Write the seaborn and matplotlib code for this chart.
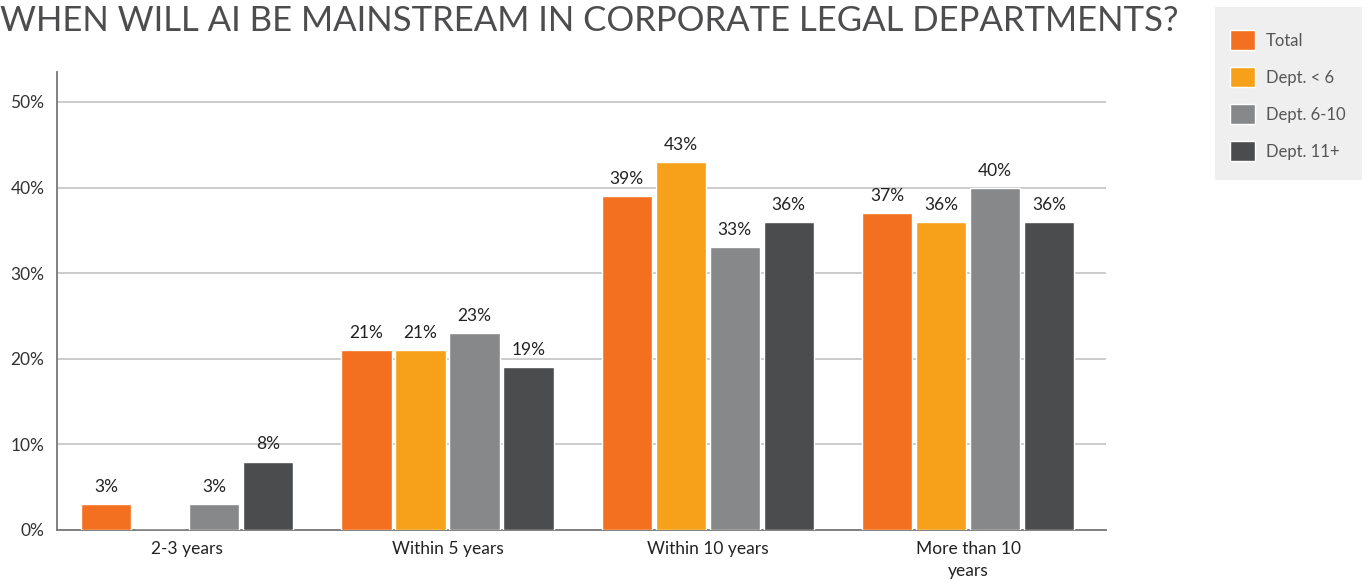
import matplotlib
matplotlib.use("Agg")
import matplotlib.pyplot as plt
from matplotlib.patches import Rectangle
import seaborn as sns
import pandas as pd

categories = ["2-3 years", "Within 5 years", "Within 10 years", "More than 10\nyears"]
series_names = ["Total", "Dept. < 6", "Dept. 6-10", "Dept. 11+"]
total = [3, 21, 39, 37]
dept_lt6 = [0, 21, 43, 36]
dept_6_10 = [3, 23, 33, 40]
dept_11p = [8, 19, 36, 36]
y_ticks = [0, 10, 20, 30, 40, 50]
colors = ["#F37021", "#F7A11A", "#87888A", "#4B4C4E"]

rows = []
for name, vals in zip(series_names, [total, dept_lt6, dept_6_10, dept_11p]):
    for cat, v in zip(categories, vals):
        rows.append({"category": cat, "series": name, "value": v})
df = pd.DataFrame(rows)

sns.set_style("white")
plt.rcParams["font.family"] = ["Lato", "DejaVu Sans"]

W, H = 1369, 581
fig = plt.figure(figsize=(W / 100, H / 100), dpi=100)
ax = fig.add_axes([57 / W, 1 - 530 / H, (1106 - 57) / W, (530 - 72) / H])

sns.barplot(data=df, x="category", y="value", hue="series", order=categories,
            hue_order=series_names, palette=colors, width=0.83, gap=0.07,
            saturation=1, ax=ax, legend=True, zorder=3)

ax.set_ylim(0, 53.5)
ax.set_xlim(-0.5, 3.53)
ax.set_yticks(y_ticks)
ax.set_yticklabels([f"{t}%" for t in y_ticks], fontsize=12.5, color="#333333")
ax.yaxis.grid(True, color="#c4c4c4", linewidth=1.2, zorder=0)
ax.set_axisbelow(True)
ax.set_xlabel("")
ax.set_ylabel("")
ax.tick_params(axis="x", which="major", length=0, labelsize=12.5, labelcolor="#222222", pad=8)
for lbl in ax.get_xticklabels():
    lbl.set_linespacing(1.45)
ax.tick_params(axis="y", length=0, pad=9)
ax.set_xticks([0.5, 1.5, 2.5], minor=True)
ax.tick_params(axis="x", which="minor", direction="in", length=20, color="#b0b0b0", width=1.2)

for side in ["top", "right"]:
    ax.spines[side].set_visible(False)
for side in ["left", "bottom"]:
    ax.spines[side].set_color("#777777")
    ax.spines[side].set_linewidth(1.3)

for cont in ax.containers:
    labels = [f"{v:g}%" if v > 0 else "" for v in cont.datavalues]
    ax.bar_label(cont, labels=labels, padding=6.5, fontsize=12.5, color="#222222")

# legend panel: light gray box with the key inside
fig.add_artist(Rectangle((1215 / W, 1 - 180 / H), (1362 - 1215) / W, (180 - 7) / H,
                         transform=fig.transFigure, facecolor="#efefef",
                         edgecolor="none", zorder=0))
handles, labels = ax.get_legend_handles_labels()
ax.get_legend().remove()
leg = fig.legend(handles, labels, loc="upper left", bbox_to_anchor=(1230 / W, 1 - 30 / H),
                 frameon=False, fontsize=12, handlelength=1.5, handleheight=1.5,
                 labelspacing=1.0, borderpad=0, handletextpad=0.65, borderaxespad=0)
for t in leg.get_texts():
    t.set_color("#555555")

fig.text(0, 1 - 31 / H, "WHEN WILL AI BE MAINSTREAM IN CORPORATE LEGAL DEPARTMENTS?",
         fontsize=25, color="#4d4d4f", ha="left", va="baseline")

fig.savefig("out.png", dpi=100, facecolor="white")
